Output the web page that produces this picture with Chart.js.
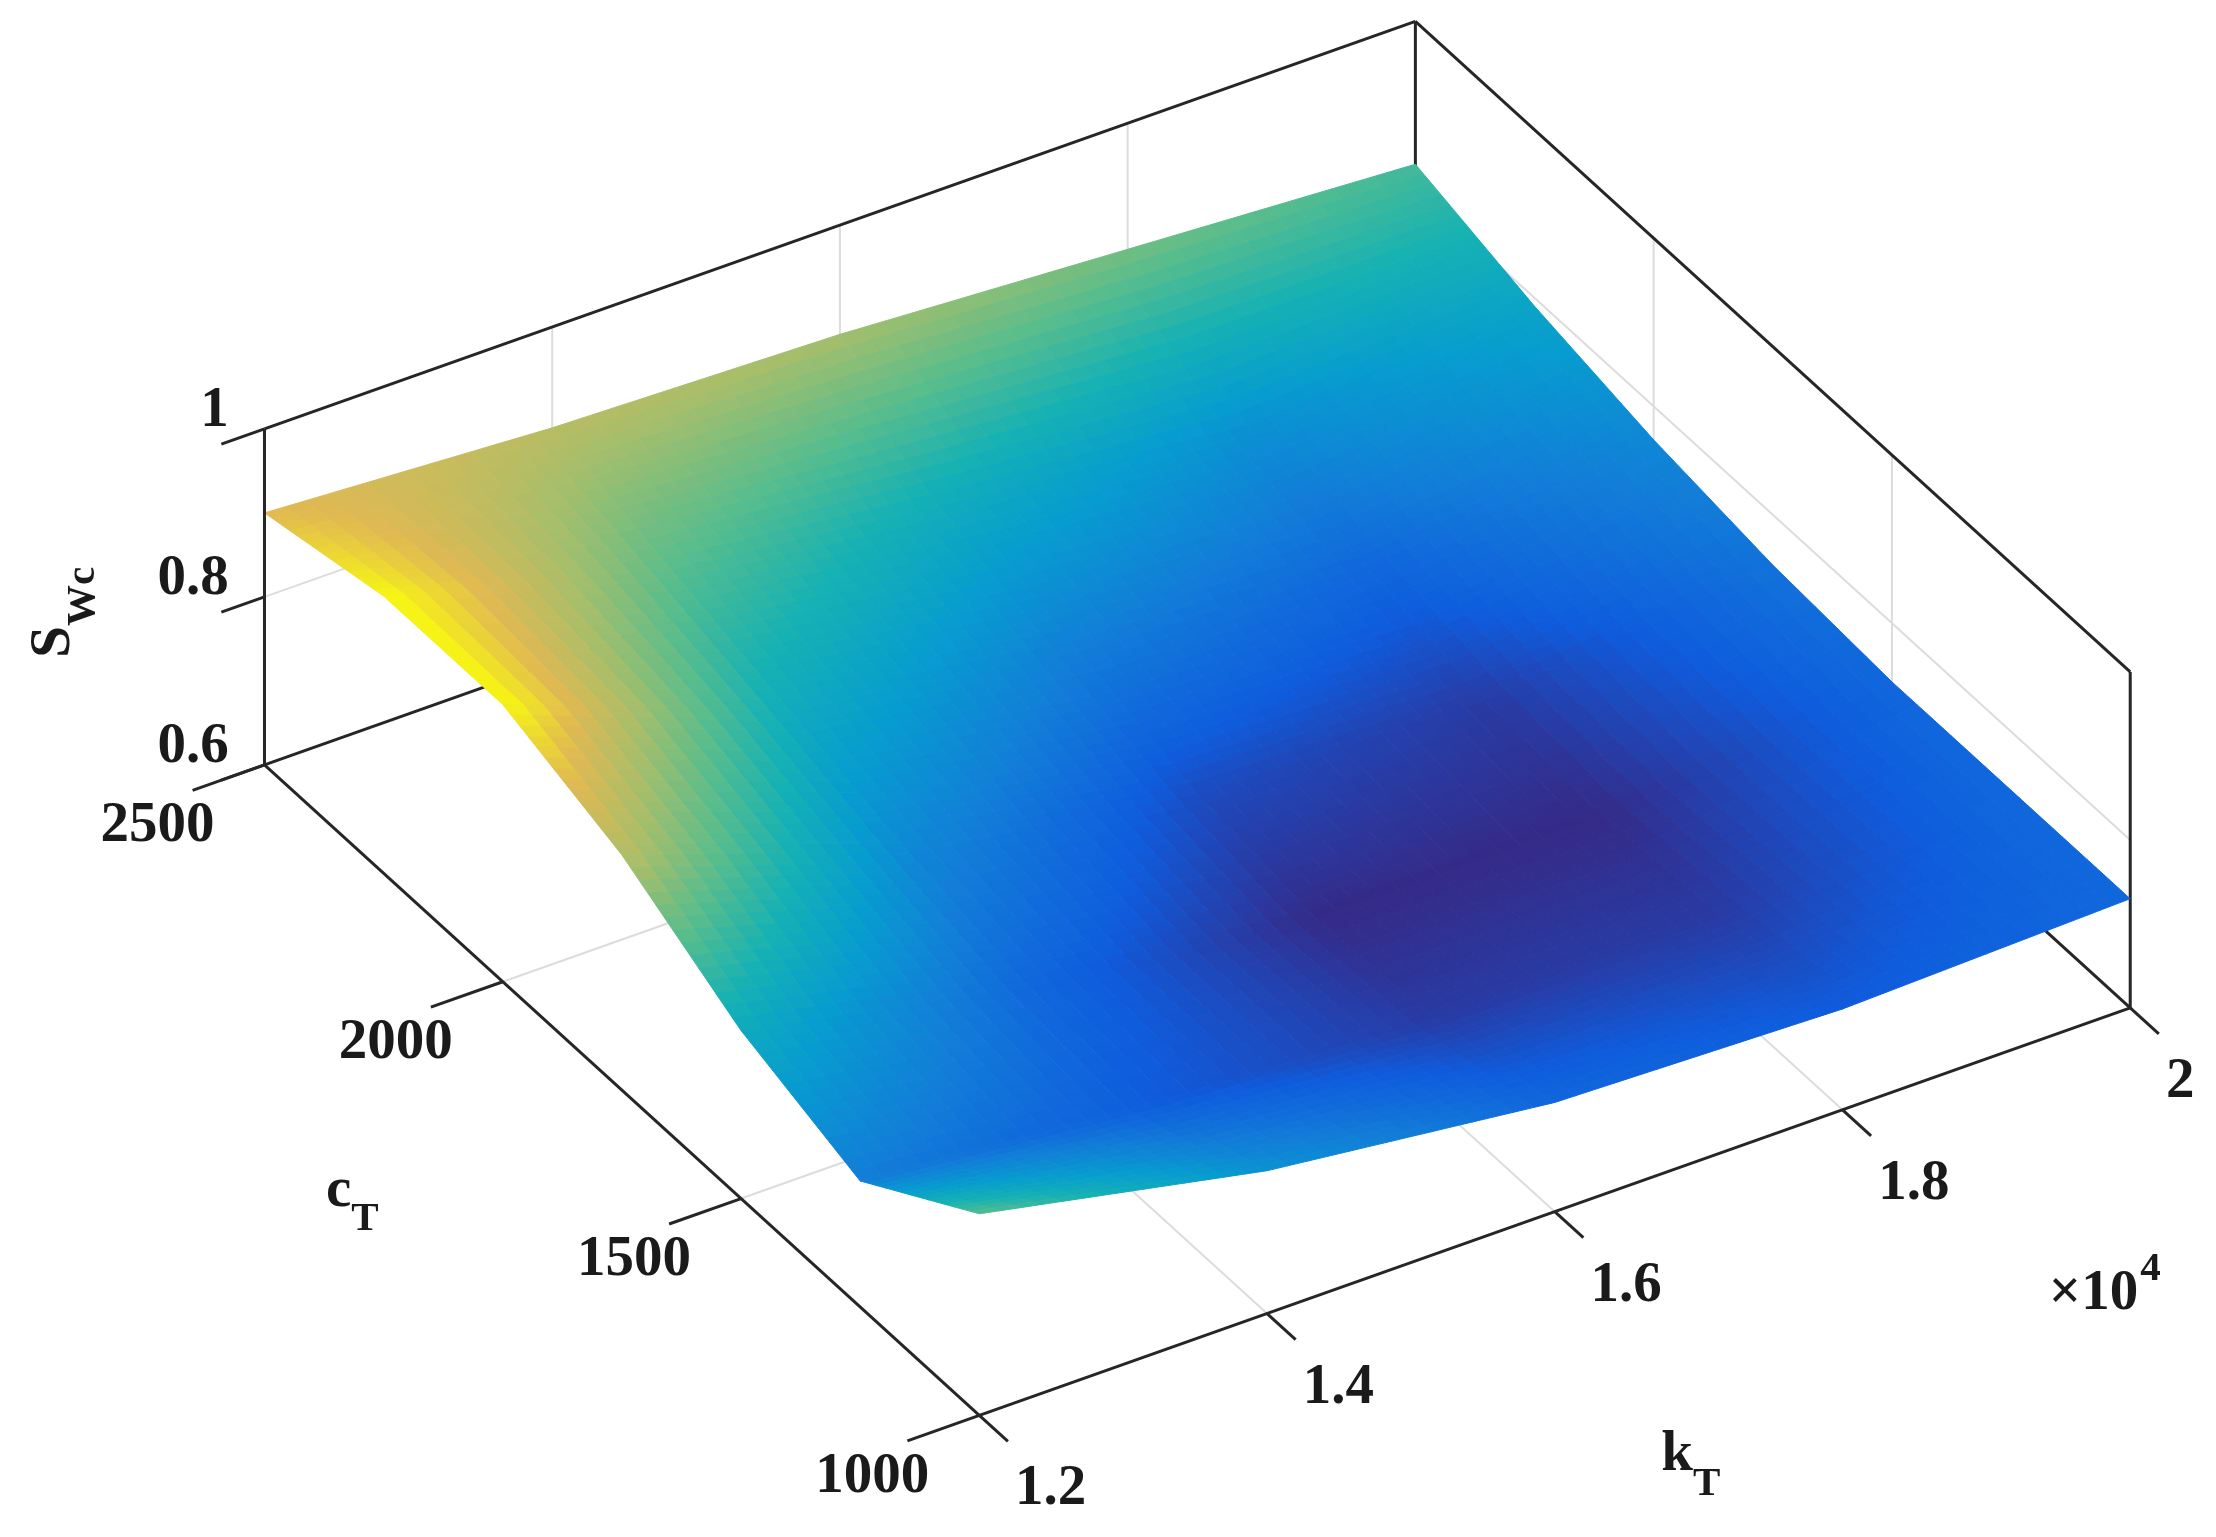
<!DOCTYPE html>
<html>
<head>
<meta charset="utf-8">
<script src="https://cdn.jsdelivr.net/npm/chart.js@4/dist/chart.umd.min.js"></script>
<style>body{margin:0;background:#fff}canvas{display:block}</style>
</head>
<body>
<canvas id="c" width="2216" height="1537"></canvas>
<script>
// surface data: rows = cT values, columns = kT values (x 1e4)
const kT = [1.2, 1.4, 1.6, 1.8, 2.0];
const cT = [1000, 1250, 1500, 1750, 2000, 2250, 2500];
const Swc = [
  [0.84, 0.77, 0.73, 0.72, 0.73],
  [0.75, 0.72, 0.70, 0.70, 0.73],
  [0.80, 0.73, 0.69, 0.69, 0.73],
  [0.88, 0.76, 0.71, 0.70, 0.74],
  [0.93, 0.80, 0.75, 0.73, 0.76],
  [0.93, 0.84, 0.80, 0.77, 0.79],
  [0.90, 0.88, 0.87, 0.85, 0.83]
];
const kTicks = [1.2, 1.4, 1.6, 1.8, 2];
const kTickLabels = ['1.2', '1.4', '1.6', '1.8', '2'];
const cTicks = [1000, 1500, 2000, 2500];
const zTicks = [0.6, 0.8, 1];
const zTickLabels = ['0.6', '0.8', '1'];

const S = 2216 / 1550;
const FONT = 'bold ' + Math.round(40 * S) + 'px "Liberation Serif", serif';
const SUB = 'bold ' + Math.round(29 * S) + 'px "Liberation Serif", serif';

// projection of (k, c, z) into chart value space (display units scaled)
function proj(k, c, z) {
  const a = (k - 1.2) / 0.8, b = (c - 1000) / 1500, h = (z - 0.6) / 0.4;
  return { x: (685 + a * 805 - b * 500) * S, y: (990 - a * 285 - b * 455 - h * 235) * S };
}

const parula = [[53,42,135],[15,92,221],[18,125,216],[7,156,207],[21,177,180],[89,189,140],[165,190,107],[225,185,82],[249,251,14]];
function colour(t) {
  t = Math.max(0, Math.min(1, t)) * (parula.length - 1);
  const i = Math.min(parula.length - 2, Math.floor(t)), f = t - i;
  const c = parula[i].map((v, j) => Math.round(v + (parula[i + 1][j] - v) * f));
  return 'rgb(' + c.join(',') + ')';
}

const zMin = Math.min(...Swc.flat()), zMax = Math.max(...Swc.flat());

const surfacePlugin = {
  id: 'surface',
  beforeDatasetsDraw(chart) {
    const ctx = chart.ctx, sx = chart.scales.x, sy = chart.scales.y;
    const P = (k, c, z) => { const p = proj(k, c, z); return [sx.getPixelForValue(p.x), sy.getPixelForValue(p.y)]; };
    const line = (a, b, col, w) => {
      ctx.beginPath(); ctx.moveTo(a[0], a[1]); ctx.lineTo(b[0], b[1]);
      ctx.strokeStyle = col; ctx.lineWidth = w; ctx.stroke();
    };
    const grid = '#dcdcdc', dark = '#262626';
    ctx.save();
    // grid lines on floor and walls
    kTicks.forEach(k => { line(P(k, 1000, 0.6), P(k, 2500, 0.6), grid, 2); line(P(k, 2500, 0.6), P(k, 2500, 1), grid, 2); });
    cTicks.forEach(c => { line(P(1.2, c, 0.6), P(2, c, 0.6), grid, 2); line(P(2, c, 0.6), P(2, c, 1), grid, 2); });
    zTicks.forEach(z => { line(P(1.2, 2500, z), P(2, 2500, z), grid, 2); line(P(2, 2500, z), P(2, 1000, z), grid, 2); });
    // back box edges
    line(P(1.2, 2500, 0.6), P(1.2, 2500, 1), dark, 3);
    line(P(2, 2500, 0.6), P(2, 2500, 1), dark, 3);
    line(P(2, 1000, 0.6), P(2, 1000, 1), dark, 3);
    line(P(1.2, 2500, 1), P(2, 2500, 1), dark, 3);
    line(P(2, 2500, 1), P(2, 1000, 1), dark, 3);
    line(P(1.2, 2500, 0.6), P(2, 2500, 0.6), dark, 3);
    line(P(2, 2500, 0.6), P(2, 1000, 0.6), dark, 3);

    // surface patches, back to front, each cell shaded finely for smoothness
    const n = 14, patches = [];
    for (let i = 0; i < cT.length - 1; i++) for (let j = 0; j < kT.length - 1; j++) {
      for (let u = 0; u < n; u++) for (let v = 0; v < n; v++) {
        const f = (uu, vv) => {
          const a = uu / n, b = vv / n;
          const z = Swc[i][j] * (1 - a) * (1 - b) + Swc[i + 1][j] * a * (1 - b) + Swc[i][j + 1] * (1 - a) * b + Swc[i + 1][j + 1] * a * b;
          return { k: kT[j] + (kT[j + 1] - kT[j]) * b, c: cT[i] + (cT[i + 1] - cT[i]) * a, z };
        };
        const q = [f(u, v), f(u + 1, v), f(u + 1, v + 1), f(u, v + 1)];
        const zc = q.reduce((s, p) => s + p.z, 0) / 4;
        const depth = (q[0].k - 1.2) / 0.8 + (q[0].c - 1000) / 1500;
        patches.push({ q, zc, depth });
      }
    }
    patches.sort((a, b) => b.depth - a.depth);
    patches.forEach(p => {
      ctx.beginPath();
      p.q.forEach((pt, idx) => { const xy = P(pt.k, pt.c, pt.z); idx ? ctx.lineTo(xy[0], xy[1]) : ctx.moveTo(xy[0], xy[1]); });
      ctx.closePath();
      const col = colour((p.zc - zMin) / (zMax - zMin));
      ctx.fillStyle = col; ctx.strokeStyle = col; ctx.lineWidth = 1;
      ctx.fill(); ctx.stroke();
    });

    // front axes with ticks
    line(P(1.2, 1000, 0.6), P(2, 1000, 0.6), dark, 3);
    line(P(1.2, 1000, 0.6), P(1.2, 2500, 0.6), dark, 3);
    line(P(1.2, 2500, 0.6), P(1.2, 2500, 1), dark, 3);
    ctx.font = FONT; ctx.fillStyle = '#1a1a1a'; ctx.textBaseline = 'middle';
    kTicks.forEach((k, i) => {
      const a = P(k, 1000, 0.6), b = P(k, 940, 0.6);
      line(a, b, dark, 3);
      ctx.textAlign = 'left';
      ctx.fillText(kTickLabels[i], a[0] + 25 * S, a[1] + 52 * S);
    });
    cTicks.forEach(c => {
      const a = P(1.2, c, 0.6), b = P(1.15, c, 0.6);
      line(a, b, dark, 3);
      ctx.textAlign = 'right';
      ctx.fillText(String(c), a[0] - 35 * S, a[1] + 43 * S);
    });
    zTicks.forEach((z, i) => {
      const a = P(1.2, 2500, z), b = P(1.17, 2500, z);
      line(a, b, dark, 3);
      ctx.textAlign = 'right';
      ctx.fillText(zTickLabels[i], a[0] - 25 * S, a[1] - 12 * S);
    });
    // axis titles
    const sub = (base, s, x, y) => {
      ctx.textAlign = 'left'; ctx.font = FONT; ctx.fillText(base, x, y);
      const w = ctx.measureText(base).width; ctx.font = SUB; ctx.fillText(s, x + w, y + 20 * S);
      ctx.font = FONT;
    };
    sub('k', 'T', 1162 * S, 1018 * S);
    sub('c', 'T', 228 * S, 833 * S);
    ctx.save(); ctx.translate(38 * S, 460 * S); ctx.rotate(-Math.PI / 2);
    sub('S', 'Wc', 0, 0); ctx.restore();
    ctx.textAlign = 'left';
    ctx.fillText('\u00d710', 1433 * S, 905 * S);
    const w10 = ctx.measureText('\u00d710').width;
    ctx.font = SUB; ctx.fillText('4', 1433 * S + w10 + 2, 888 * S);
    ctx.restore();
  }
};

new Chart(document.getElementById('c'), {
  type: 'scatter',
  data: { datasets: [{ data: [], pointRadius: 0 }] },
  options: {
    responsive: false, animation: false,
    layout: { padding: 0 },
    plugins: { legend: { display: false }, tooltip: { enabled: false } },
    scales: {
      x: { display: false, min: 0, max: 2216 },
      y: { display: false, min: 0, max: 1537, reverse: true }
    }
  },
  plugins: [surfacePlugin]
});
</script>
</body>
</html>
